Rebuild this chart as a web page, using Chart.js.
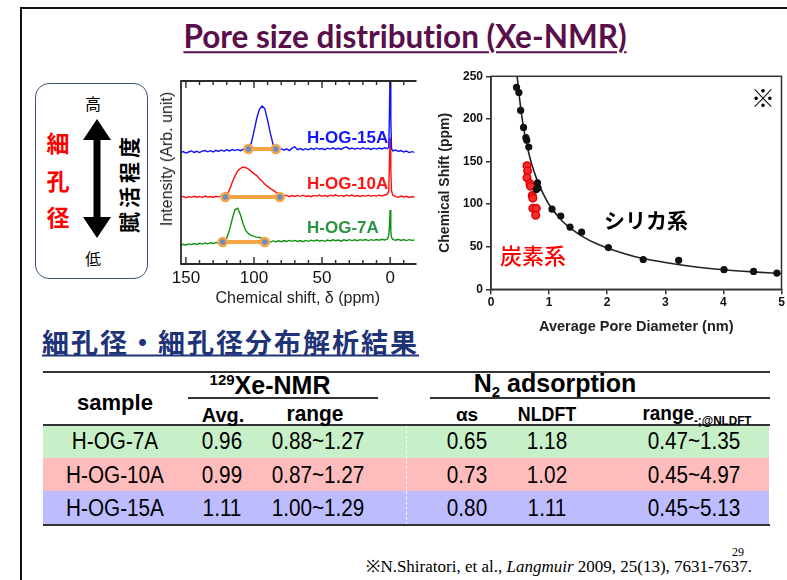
<!DOCTYPE html>
<html><head><meta charset="utf-8">
<script src="https://cdn.jsdelivr.net/npm/chart.js@4.4.1/dist/chart.umd.min.js"></script>
<style>
html,body{margin:0;padding:0;background:#fff;}
#slide{position:relative;width:787px;height:580px;overflow:hidden;background:#fff;font-family:"Liberation Sans",Arial,sans-serif;color:#000;}
.frame{position:absolute;left:20px;top:7px;width:800px;height:600px;border:2px solid #111;}
.c{position:absolute;transform:translate(-50%,-50%);white-space:nowrap;line-height:1;}
.l{position:absolute;transform:translateY(-50%);white-space:nowrap;line-height:1;}
.jp{font-family:"Noto Sans CJK JP",sans-serif;}
canvas{position:absolute;}
.cell{position:absolute;transform:translate(-50%,-50%) scaleX(.9);white-space:nowrap;line-height:1;font-size:23px;}
.hd{position:absolute;transform:translate(-50%,-50%);white-space:nowrap;line-height:1;font-weight:bold;}
.band{position:absolute;left:43px;width:726px;}
.rule{position:absolute;background:#333;}
</style></head>
<body>
<div id="slide">
  <div class="frame"></div>

  <div class="c" style="left:405px;top:37px;font-family:Lato,sans-serif;font-weight:bold;font-size:31.5px;color:#5a0f4a;font-variant-ligatures:none;text-decoration:underline;text-decoration-thickness:2px;text-underline-offset:3px;">Pore size distribution (Xe-NMR)</div>

  <!-- activation-degree legend box -->
  <div style="position:absolute;left:35px;top:83px;width:111px;height:194px;border:1.6px solid #3b5577;border-radius:14px;"></div>
  <div class="c jp" style="left:93px;top:103px;font-size:16px;">高</div>
  <div class="c jp" style="left:93px;top:258px;font-size:16px;">低</div>
  <div class="c jp" style="left:58px;top:142px;font-size:23px;font-weight:bold;color:#ff0000;">細</div>
  <div class="c jp" style="left:58px;top:180px;font-size:23px;font-weight:bold;color:#ff0000;">孔</div>
  <div class="c jp" style="left:58px;top:216px;font-size:23px;font-weight:bold;color:#ff0000;">径</div>
  <svg style="position:absolute;left:80px;top:115px" width="34" height="128">
    <polygon points="17,4 31,25 20.5,25 20.5,102 31,102 17,123 3,102 13.5,102 13.5,25 3,25" fill="#000"/>
  </svg>
  <div class="c jp" style="left:128px;top:183px;font-size:21px;font-weight:bold;letter-spacing:4px;transform:translate(-50%,-50%) rotate(-90deg);">賦活程度</div>

  <!-- NMR spectra -->
  <canvas id="spec" width="271" height="240" style="left:150px;top:70px"></canvas>
  <div class="c" style="left:167px;top:159px;font-size:16px;color:#222;transform:translate(-50%,-50%) rotate(-90deg);">Intensity (Arb. unit)</div>
  <div class="l" style="left:307px;top:137px;font-size:17px;font-weight:bold;color:#1414ff;">H-OG-15A</div>
  <div class="l" style="left:307px;top:183px;font-size:17px;font-weight:bold;color:#ff1414;">H-OG-10A</div>
  <div class="l" style="left:307px;top:227px;font-size:17px;font-weight:bold;color:#2a9440;">H-OG-7A</div>

  <!-- chemical shift vs pore diameter -->
  <canvas id="pore" width="367" height="280" style="left:420px;top:60px"></canvas>
  <div class="c jp" style="left:646px;top:219px;font-size:21px;font-weight:bold;">シリカ系</div>
  <div class="c jp" style="left:533px;top:254px;font-size:22px;font-weight:500;color:#ff0000;">炭素系</div>
  <div class="c jp" style="left:763px;top:97px;font-size:24px;">※</div>

  <!-- results table -->
  <div class="l jp" style="left:42px;top:341px;font-size:27px;font-weight:bold;letter-spacing:2px;color:#1f3377;text-decoration:underline;text-decoration-thickness:2px;text-underline-offset:2px;">細孔径・細孔径分布解析結果</div>
  <div id="table"></div>

  <div style="position:absolute;right:35px;top:558px;font-family:'Liberation Serif',serif;font-size:17px;white-space:nowrap;line-height:1;">※N.Shiratori, et al., <i>Langmuir</i> 2009, 25(13), 7631-7637.</div>
  <div style="position:absolute;left:732px;top:546px;font-family:'Liberation Serif',serif;font-size:12px;line-height:1;">29</div>
</div>

<script>
// ---- 129Xe NMR spectra (offset traces, arbitrary units) ----
const ppm = [154,152,150,148,146,144,142,140,138,136,134,132,130,128,126,124,122,120,118,116,114,112,110,108,106,104,102,100,98,96,94,92,90,88,86,84,82,80,78,76,74,72,70,68,66,64,62,60,58,56,54,52,50,48,46,44,42,40,38,36,34,32,30,28,26,24,22,20,18,16,14,12,10,8,6,4,2,1,0.5,0,-0.5,-1,-2,-4,-6,-8,-10,-12,-14,-16,-18];

const specOG15A = [60.8,61.4,60.6,61.2,61.8,61.0,61.6,60.9,61.7,62.0,61.3,61.9,61.2,62.1,61.5,62.3,61.6,62.4,61.8,62.5,62.0,62.6,61.9,62.7,
  62.4,63.6,66.0,72.5,79.5,84.5,86.3,84.8,78.5,71.5,65.5,62.6,62.0,63.0,
  62.2,62.9,62.0,63.3,64.0,62.5,63.1,62.3,63.0,62.4,63.2,62.6,63.4,62.7,63.1,62.5,63.3,62.8,63.5,62.7,63.2,62.6,63.6,63.9,62.9,63.4,62.7,63.3,62.8,63.5,62.9,63.2,62.6,63.3,62.8,63.4,62.9,63.5,63.0,
  63.8,82,108,80,63.2,61.8,62.3,61.5,62.0,61.2,61.7,60.9,61.4,61.0];

const specOG10A = [36.3,36.9,36.2,36.8,36.4,37.0,36.5,36.9,36.3,37.1,36.6,36.9,36.4,37.0,36.7,37.2,
  37.0,37.8,40.5,44.5,48.0,50.8,52.2,53.0,52.6,51.8,50.6,49.4,48.3,46.6,45.2,43.6,42.4,41.2,40.4,39.3,38.5,37.8,37.3,37.5,
  36.8,37.4,36.9,37.5,37.0,37.6,36.9,37.3,36.8,37.5,37.1,37.7,37.0,37.4,36.9,37.6,37.2,37.8,37.1,37.5,36.9,37.6,37.2,37.7,37.0,37.4,36.9,37.5,37.1,37.6,37.0,37.5,37.1,37.6,37.2,37.7,38.2,
  40,56,69,52,40,37.6,37.0,36.5,37.1,36.6,37.0,36.4,36.9,36.5];

const specOG7A = [10.2,10.8,10.4,11.0,10.6,11.2,10.7,11.3,10.9,11.5,11.0,11.6,11.2,11.8,11.5,
  12.0,12.6,14.2,18.5,24.5,29.6,30.5,27.0,22.0,18.2,16.6,15.6,15.1,14.7,14.5,14.0,13.2,12.7,
  12.0,12.6,12.1,12.7,12.2,12.8,12.3,12.9,12.4,12.9,12.3,12.8,12.2,12.9,12.4,13.0,12.5,13.1,12.6,12.9,12.4,13.1,12.6,13.2,12.7,13.1,12.5,13.2,12.7,13.3,12.8,13.2,12.7,13.3,12.9,13.4,12.8,13.3,12.9,13.4,13.0,13.5,13.1,13.7,
  15.5,21,29.5,18,14.5,13.4,13.0,13.5,12.9,13.4,12.8,13.3,12.9,13.2];

// peak ranges (ppm) and the trace level they sit on
const rangeOG15A = [104, 84], levelOG15A = 62.8;
const rangeOG10A = [121, 81], levelOG10A = 36.6;
const rangeOG7A  = [123, 92], levelOG7A  = 12.0;
const shiftTicks = [150, 100, 50, 0];

// ---- chemical shift vs. average pore diameter ----
const silicaDiam  = [0.44,0.48,0.51,0.56,0.60,0.615,0.65,0.80,0.78,0.81,1.05,1.20,1.36,1.56,2.02,2.62,3.23,4.01,4.52,4.92];
const silicaShift = [237,231,210,190,178,175,167,125,117,119,94,86,73,67,49,35,34,23,21,19];
const carbonDiam  = [0.62,0.63,0.62,0.67,0.68,0.71,0.72,0.72,0.78,0.77];
const carbonShift = [145,139,131,124,121,110,107,95,95,87];
const fitDiam  = [0.43,0.45,0.5,0.55,0.6,0.65,0.7,0.8,0.9,1.0,1.2,1.4,1.6,1.8,2.0,2.5,3.0,3.5,4.0,4.5,5.0];
const fitShift = [262,250,219,194,175,160,147,127,112,99.5,82,70,61,54,48.5,38,31.5,26.5,23,20.5,18.5];

// ---- pore size results ----
const samples  = ['H-OG-7A','H-OG-10A','H-OG-15A'];
const xeAvg    = ['0.96','0.99','1.11'];
const xeRange  = ['0.88~1.27','0.87~1.27','1.00~1.29'];
const alphaS   = ['0.65','0.73','0.80'];
const nldft    = ['1.18','1.02','1.11'];
const n2Range  = ['0.47~1.35','0.45~4.97','0.45~5.13'];
const rowColors = ['#c8f0c8','#ffbcbc','#bcbcff'];

const pts = (xs, ys) => xs.map((x, i) => ({x, y: ys[i]}));
const rangeSet = (r, lvl) => ({
  data: r.map(x => ({x, y: lvl})), borderColor: '#f5a447', borderWidth: 4,
  pointRadius: 4, pointBackgroundColor: '#6a8cc4', pointBorderColor: '#f5a447', pointBorderWidth: 2.5
});
const traceSet = (ys, color) => ({
  data: pts(ppm, ys), borderColor: color, borderWidth: 1.4, pointRadius: 0, tension: 0
});

// frame + inward tick marks for the spectra panel
const specFrame = {
  id: 'specFrame',
  afterDraw(chart) {
    const {ctx, chartArea: a, scales: {x}} = chart;
    ctx.save();
    ctx.strokeStyle = '#2a2a2a';
    ctx.lineWidth = 1.8;
    ctx.beginPath();
    ctx.moveTo(a.right + 2, a.top); ctx.lineTo(a.left, a.top);
    ctx.lineTo(a.left, a.bottom); ctx.lineTo(a.right + 2, a.bottom);
    ctx.stroke();
    ctx.lineWidth = 1.4;
    x.ticks.forEach(t => {
      const px = x.getPixelForValue(t.value);
      if (px < a.left + 1 || px > a.right) return;
      const len = t.value % 50 === 0 ? 7 : 4;
      ctx.beginPath();
      ctx.moveTo(px, a.bottom); ctx.lineTo(px, a.bottom - len);
      ctx.moveTo(px, a.top); ctx.lineTo(px, a.top + len);
      ctx.stroke();
    });
    ctx.restore();
  }
};

new Chart(document.getElementById('spec'), {
  type: 'line',
  data: { datasets: [
    rangeSet(rangeOG15A, levelOG15A),
    rangeSet(rangeOG10A, levelOG10A),
    rangeSet(rangeOG7A, levelOG7A),
    traceSet(specOG15A, '#1010ff'),
    traceSet(specOG10A, '#ff1010'),
    traceSet(specOG7A, '#119011')
  ]},
  options: {
    responsive: false, animation: false, devicePixelRatio: 1,
    layout: { padding: { top: 11, right: 0, left: 0, bottom: 0 } },
    plugins: { legend: { display: false }, tooltip: { enabled: false } },
    scales: {
      x: {
        type: 'linear', reverse: true, min: -17.9, max: 153.6,
        afterBuildTicks: s => { s.ticks = s.ticks.filter(t => Math.abs(t.value / 10 - Math.round(t.value / 10)) < 1e-6); },
        ticks: { stepSize: 10, includeBounds: false, autoSkip: false, maxRotation: 0, padding: 4, color: '#111',
                 font: { family: 'Liberation Sans', size: 17 },
                 callback: v => shiftTicks.includes(v) ? String(v) : '' },
        grid: { display: false, drawTicks: false }, border: { display: false },
        title: { display: true, text: 'Chemical shift, δ (ppm)', color: '#222',
                 font: { family: 'Liberation Sans', size: 16 }, padding: { top: 0, bottom: 2 } },
        afterFit: s => { s.height = 46; }
      },
      y: {
        min: 0, max: 100,
        ticks: { display: false }, grid: { display: false, drawTicks: false }, border: { display: false },
        afterFit: s => { s.width = 31; }
      }
    }
  },
  plugins: [specFrame]
});

// full box around the pore-diameter panel
const poreFrame = {
  id: 'poreFrame',
  afterDraw(chart) {
    const {ctx, chartArea: a} = chart;
    ctx.save();
    ctx.strokeStyle = '#333';
    ctx.lineWidth = 1.5;
    ctx.strokeRect(a.left, a.top, a.right - a.left, a.bottom - a.top);
    ctx.restore();
  }
};

const boldTick = { family: 'Liberation Sans', size: 12, weight: 'bold' };
new Chart(document.getElementById('pore'), {
  type: 'scatter',
  data: { datasets: [
    { data: pts(silicaDiam, silicaShift), pointRadius: 3.6, pointBackgroundColor: '#111', pointBorderColor: '#111', borderWidth: 0 },
    { data: pts(carbonDiam, carbonShift), pointRadius: 3.8, pointBackgroundColor: '#f03030', pointBorderColor: '#e80000', pointBorderWidth: 1.5 },
    { type: 'line', data: pts(fitDiam, fitShift), borderColor: '#222', borderWidth: 1.6, pointRadius: 0, cubicInterpolationMode: 'monotone' }
  ]},
  options: {
    responsive: false, animation: false, devicePixelRatio: 1,
    layout: { padding: { top: 16.3, right: 3.7, left: 0, bottom: 0 } },
    plugins: { legend: { display: false }, tooltip: { enabled: false } },
    scales: {
      x: {
        type: 'linear', min: 0, max: 5,
        ticks: { stepSize: 1, padding: 1.5, color: '#111', font: boldTick, maxRotation: 0 },
        grid: { drawOnChartArea: false, drawTicks: true, tickLength: 5, color: '#333', lineWidth: 1.5 },
        border: { display: true, color: '#333', width: 1.5 },
        title: { display: true, text: 'Average Pore Diameter (nm)', color: '#222',
                 font: { family: 'Liberation Sans', size: 14.5, weight: 'bold' }, padding: { top: 0, bottom: 4 } },
        afterFit: s => { s.height = 50.7; }
      },
      y: {
        min: 0, max: 250,
        ticks: { stepSize: 50, padding: 3, color: '#111', font: boldTick },
        grid: { drawOnChartArea: false, drawTicks: true, tickLength: 5, color: '#333', lineWidth: 1.5 },
        border: { display: true, color: '#333', width: 1.5 },
        title: { display: true, text: 'Chemical Shift (ppm)', color: '#222',
                 font: { family: 'Liberation Sans', size: 14, weight: 'bold' }, padding: { top: 16.6 } },
        afterFit: s => { s.width = 71; }
      }
    }
  },
  plugins: [poreFrame]
});

// ---- results table ----
(function buildTable() {
  const host = document.getElementById('table');
  const add = (cls, style, html) => {
    const d = document.createElement('div');
    d.className = cls; d.setAttribute('style', style);
    if (html != null) d.innerHTML = html;
    host.appendChild(d);
  };
  const rowTop = [425, 458, 491], rowH = 33.5;
  rowColors.forEach((c, i) => add('band', `top:${rowTop[i]}px;height:${rowH}px;background:${c};`));
  add('', 'position:absolute;left:406px;top:425px;height:100px;border-left:1px dashed rgba(255,255,255,.9);');
  add('rule', 'left:43px;top:371px;width:727px;height:2px;');
  add('rule', 'left:43px;top:424px;width:727px;height:2px;');
  add('rule', 'left:43px;top:524px;width:727px;height:2px;');
  add('rule', 'left:188px;top:397px;width:190px;height:1.5px;');
  add('rule', 'left:430px;top:397px;width:340px;height:1.5px;');

  add('hd', 'left:115px;top:403px;font-size:22px;', 'sample');
  add('hd', 'left:270px;top:385px;font-size:25px;', '<sup style="font-size:15px;vertical-align:9px">129</sup>Xe-NMR');
  add('hd', 'left:555px;top:385px;font-size:25px;', 'N<sub style="font-size:15px;vertical-align:-5px">2</sub> adsorption');
  add('hd', 'left:223px;top:414px;font-size:21px;transform:translate(-50%,-50%) scaleX(.95);', 'Avg.');
  add('hd', 'left:315px;top:414px;font-size:22px;transform:translate(-50%,-50%) scaleX(.95);', 'range');
  add('hd', 'left:467px;top:414px;font-size:19px;', 'αs');
  add('hd', 'left:547px;top:413px;font-size:21px;transform:translate(-50%,-50%) scaleX(.85);', 'NLDFT');
  add('hd', 'left:697px;top:414px;font-size:21px;transform:translate(-50%,-50%) scaleX(.9);', 'range<sub style="font-size:13px;vertical-align:-5px">-;@NLDFT</sub>');

  const cols = [[samples, 115], [xeAvg, 222], [xeRange, 318], [alphaS, 467], [nldft, 547], [n2Range, 694]];
  const rowMid = [441, 475, 508];
  cols.forEach(([vals, x]) => vals.forEach((v, i) => add('cell', `left:${x}px;top:${rowMid[i]}px;`, v)));
})();
</script>
</body></html>
